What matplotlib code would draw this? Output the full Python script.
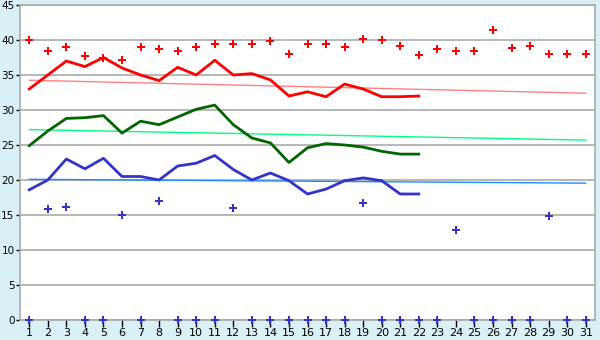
import matplotlib.pyplot as plt

# data
days = list(range(1, 32))
max_abs = [40.0, 38.4, 39.0, 37.7, 37.5, 37.2, 39.0, 38.7, 38.4, 39.0,
           39.4, 39.4, 39.4, 39.8, 38.0, 39.4, 39.4, 39.0, 40.2, 40.0,
           39.2, 37.8, 38.7, 38.5, 38.4, 41.4, 38.8, 39.1, 38.0, 38.0, 38.0]
min_abs = [0, 15.8, 16.2, 0, 0, 15.0, 0, 17.0, 0, 0,
           0, 16.0, 0, 0, 0, 0, 0, 0, 16.7, 0,
           0, 0, 0, 12.8, 0, 0, 0, 0, 14.8, 0, 0]

line_days = list(range(1, 23))
t_max = [33.0, 35.0, 37.0, 36.2, 37.5, 36.0, 35.0, 34.2, 36.1, 35.0,
         37.1, 35.0, 35.2, 34.3, 32.0, 32.6, 31.9, 33.7, 33.0, 31.9, 31.9, 32.0]
t_mean = [24.9, 27.0, 28.8, 28.9, 29.2, 26.7, 28.4, 27.9, 29.0, 30.1,
          30.7, 27.9, 26.0, 25.3, 22.5, 24.6, 25.2, 25.0, 24.7, 24.1, 23.7, 23.7]
t_min = [18.6, 20.0, 23.0, 21.6, 23.1, 20.5, 20.5, 20.0, 22.0, 22.4,
         23.5, 21.5, 20.0, 21.0, 19.9, 18.0, 18.7, 19.9, 20.3, 19.9, 18.0, 18.0]

norm_days = [1, 31]
norm_max = [34.25, 32.4]
norm_mean = [27.2, 25.7]
norm_min = [20.1, 19.55]

bg = '#d9f0f7'
grid_c = '#aaaaaa'

fig = plt.figure(figsize=(6, 3.4), dpi=100, facecolor=bg)
ax = fig.add_axes([20/600, 20/340, 575/600, 315/340])
ax.set_facecolor('white')

ax.set_xlim(0.5, 31.5)
ax.set_ylim(0, 45)
ax.set_yticks(range(0, 46, 5))
ax.set_xticks(days)
ax.grid(axis='y', color=grid_c, linewidth=1.2)
ax.set_axisbelow(True)

ax.plot(norm_days, norm_max, color='#ff8080', lw=1.0)
ax.plot(norm_days, norm_mean, color='#00ff80', lw=1.0)
ax.plot(norm_days, norm_min, color='#1a8cff', lw=1.0)

ax.plot(line_days, t_max, color='#ff0000', lw=2.0)
ax.plot(line_days, t_mean, color='#006600', lw=2.0)
ax.plot(line_days, t_min, color='#3333cc', lw=2.0)

ax.plot(days, max_abs, ls='none', marker='P', ms=6, color='#ff0000', mew=0)
ax.plot(days, min_abs, ls='none', marker='P', ms=6, color='#3333cc', mew=0,
        clip_on=False, zorder=5)

for s in ax.spines.values():
    s.set_color(grid_c)
    s.set_linewidth(1.2)

ax.tick_params(axis='x', labelsize=8, length=5, width=1, color='black', pad=1)
ax.tick_params(axis='y', labelsize=7.5, length=3, width=1, color='black', pad=1)

fig.savefig('out.png', dpi=100, facecolor=bg)
